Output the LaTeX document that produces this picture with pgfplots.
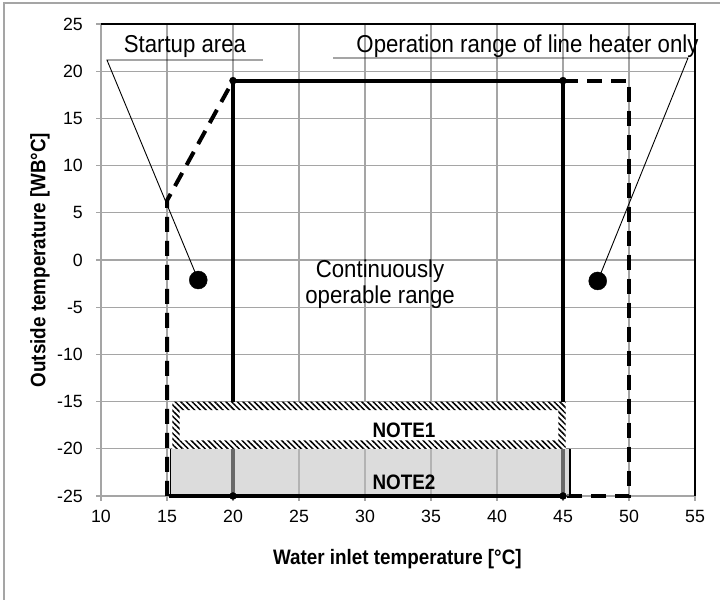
\documentclass[border=0pt]{standalone}
\usepackage{fontspec}
\setmainfont{Liberation Sans}
\newfontfamily\annfont{Liberation Sans}[FakeStretch=0.91]
\newfontfamily\labfont{Liberation Sans}[FakeStretch=0.9]
\usepackage{pgfplots}
\pgfplotsset{compat=1.18}
\usetikzlibrary{patterns.meta}
\definecolor{gridgray}{RGB}{165,165,165}
\definecolor{notegray}{RGB}{192,192,192}
\begin{document}
\begin{tikzpicture}[x=1bp,y=1bp]
\useasboundingbox (0,0) rectangle (720,600);
\draw[color=gridgray, line width=1.5bp] (4,0) -- (4,597) -- (720,597);
\begin{axis}[
  at={(101bp,104bp)}, anchor=south west,
  scale only axis, width=594bp, height=472bp,
  xmin=10, xmax=55, ymin=-25, ymax=25,
  xtick={10,15,...,55}, ytick={-25,-20,...,25},
  grid=major, grid style={color=gridgray, line width=1.2bp},
  axis line style={color=gridgray, line width=1.2bp},
  tick style={color=gridgray, line width=1.2bp},
  tick align=outside, major tick length=5bp,
  xtick pos=bottom, ytick pos=left,
  clip=false,
  /pgf/number format/assume math mode=true,
  ticklabel style={font=\fontsize{17.8}{17.8}\selectfont, inner sep=0pt},
  xticklabel style={anchor=north, yshift=-9bp},
  yticklabel style={anchor=east, xshift=-13bp},
  xlabel={Water inlet temperature [°C]},
  ylabel={Outside temperature [WB°C]},
  xlabel style={font=\labfont\bfseries\fontsize{21}{21}\selectfont, at={(axis description cs:0.499,-0.1335)}, anchor=center},
  ylabel style={font=\labfont\bfseries\fontsize{21}{21}\selectfont, at={(axis description cs:-0.1027,0.5)}, anchor=center},
]
% top and right frame
\draw[black, line width=1.2bp] (rel axis cs:0,1) -- (rel axis cs:1,1) -- (rel axis cs:1,0);
% dashed boundaries
\addplot[black, line width=4bp, dash pattern=on 15bp off 9bp] coordinates {(15,-25) (15,6.3) (20,19)};
\addplot[black, line width=4bp, dash pattern=on 15bp off 9bp] coordinates {(45,19) (50,19) (50,-25) (45,-25)};
% continuously operable range
\addplot[black, line width=4bp] coordinates {(20,-25) (20,19) (45,19) (45,-25)};
% NOTE2 box
\fill[notegray, fill opacity=0.55] (axis cs:15.27,-25) rectangle (axis cs:45.5,-20);
\draw[gray, line width=1bp] (axis cs:15.27,-20) -- (axis cs:45.5,-20);
\draw[black, line width=1.8bp] (axis cs:15.27,-20) -- (axis cs:15.27,-25);
\draw[black, line width=1.8bp] (axis cs:45.5,-20) -- (axis cs:45.5,-25);
\addplot[black, line width=4bp] coordinates {(15.15,-25) (45,-25)};
% NOTE1 box
\fill[white] (axis cs:15.4,-20) rectangle (axis cs:45.2,-15);
\fill[pattern={Lines[angle=-45,distance=4bp,line width=1.5bp]}, pattern color=black, even odd rule]
  (axis cs:15.4,-20) rectangle (axis cs:45.2,-15)
  (axis cs:15.95,-19.1) rectangle (axis cs:44.65,-15.9);
\node[font=\labfont\bfseries\fontsize{21}{21}\selectfont] at (axis cs:32.95,-18) {NOTE1};
\node[font=\labfont\bfseries\fontsize{21}{21}\selectfont] at (axis cs:32.95,-23.5) {NOTE2};
% corner dots
\addplot[only marks, mark=*, mark size=3.5bp, black] coordinates {(20,19) (45,19) (20,-25) (45,-25)};
% callouts
\addplot[black, line width=0.9bp] coordinates {(22.27,21.19) (10.45,21.19) (17.37,-2.12)};
\addplot[black, line width=0.9bp] coordinates {(27.58,21.4) (54.47,21.4) (47.63,-2.22)};
\addplot[only marks, mark=*, mark size=9bp, black] coordinates {(17.37,-2.12) (47.63,-2.22)};
\node[font=\annfont\fontsize{24.5}{26}\selectfont, anchor=base] at (axis cs:16.36,21.96) {Startup area};
\node[font=\annfont\fontsize{24.5}{26}\selectfont, anchor=base] at (axis cs:42.31,21.98) {Operation range of line heater only};
\node[font=\annfont\fontsize{24.5}{26}\selectfont, anchor=base] at (axis cs:31.14,-1.83) {Continuously};
\node[font=\annfont\fontsize{24.5}{26}\selectfont, anchor=base] at (axis cs:31.14,-4.56) {operable range};
\end{axis}
\end{tikzpicture}
\end{document}
